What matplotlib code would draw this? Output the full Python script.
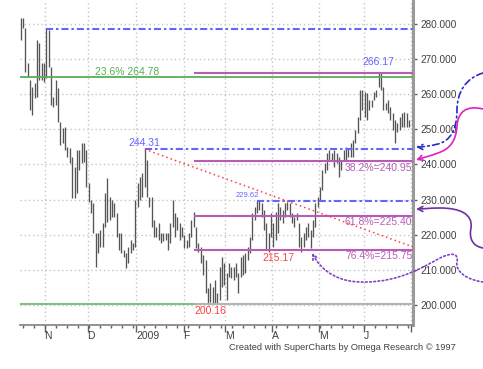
import numpy as np
import matplotlib
matplotlib.use("Agg")
import matplotlib.pyplot as plt
from matplotlib.patches import FancyArrowPatch
from matplotlib.path import Path

plt.rcParams['font.family'] = ['Liberation Sans', 'DejaVu Sans']

# daily bars, mid Oct 2008 .. end of Jun 2009
highs = [281.7, 281.7, 278.9, 268.9, 264.0, 262.1, 263.2, 275.4, 274.6, 268.9,
         268.9, 278.6, 278.3, 267.7, 259.2, 264.0, 261.8, 252.1, 250.4, 250.7,
         245.0, 244.7, 242.1, 239.3, 244.1, 244.1, 246.1, 246.1, 244.1, 234.7,
         229.9, 229.0, 220.5, 220.5, 221.3, 223.3, 231.9, 236.1, 230.7, 229.9,
         229.0, 226.2, 220.5, 220.5, 215.6, 214.8, 216.5, 218.5, 217.6, 229.9,
         234.7, 236.4, 237.6, 244.31, 241.3, 230.7, 230.7, 224.2, 222.2, 223.3,
         220.5, 220.5, 220.5, 220.5, 223.3, 229.9, 226.2, 225.0, 223.3, 222.2,
         219.9, 218.5, 220.5, 224.2, 226.4, 222.2, 217.6, 216.5, 214.2, 212.8,
         204.8, 206.2, 205.1, 207.1, 203.4, 210.8, 213.6, 211.9, 209.1, 211.9,
         210.8, 210.8, 211.9, 209.1, 213.6, 214.2, 214.8, 216.5, 219.3, 226.2,
         227.9, 229.62, 229.62, 229.0, 227.0, 223.3, 220.5, 226.2, 223.3, 226.4,
         229.0, 227.9, 227.0, 229.0, 229.3, 229.0, 226.2, 225.0, 226.2, 223.3,
         219.3, 220.5, 222.2, 223.3, 221.3, 224.2, 229.0, 230.7, 233.6, 238.4,
         240.4, 243.2, 244.1, 243.2, 244.1, 243.2, 242.1, 241.3, 244.1, 245.0,
         244.7, 246.1, 246.9, 249.8, 253.5, 261.2, 261.2, 260.6, 260.3, 258.3,
         258.3, 260.6, 261.2, 266.17, 266.0, 262.1, 257.5, 258.3, 256.4, 254.6,
         252.6, 251.8, 253.5, 254.6, 254.9, 254.6, 252.6]
lows = [275.4, 278.9, 266.3, 264.9, 255.5, 254.1, 258.9, 259.2, 264.0, 264.0,
        263.5, 264.6, 267.7, 256.9, 256.4, 256.9, 252.1, 245.5, 246.1, 244.1,
        242.1, 240.4, 230.4, 230.4, 231.9, 238.4, 240.4, 240.7, 233.6, 229.3,
        226.2, 220.5, 210.8, 214.8, 216.5, 216.5, 222.2, 223.6, 224.2, 225.0,
        225.0, 219.3, 215.6, 214.8, 213.6, 210.5, 211.9, 214.8, 215.6, 216.5,
        227.9, 229.9, 230.7, 233.6, 230.7, 227.9, 222.2, 219.3, 219.3, 218.5,
        217.6, 218.2, 218.5, 215.6, 217.6, 222.2, 219.3, 221.3, 218.5, 219.3,
        216.2, 216.2, 216.5, 219.3, 222.2, 216.2, 215.0, 211.9, 208.5, 203.4,
        200.16, 200.8, 200.16, 200.16, 200.5, 201.4, 205.1, 205.6, 201.4, 207.9,
        207.6, 207.1, 207.9, 203.4, 207.9, 208.5, 209.1, 212.8, 214.8, 218.5,
        224.2, 226.2, 227.0, 225.0, 221.3, 215.6, 215.0, 219.3, 216.5, 218.5,
        220.5, 224.2, 223.3, 225.0, 227.0, 225.0, 223.3, 222.2, 224.2, 216.5,
        215.17, 216.5, 218.5, 219.3, 216.2, 219.3, 222.2, 227.9, 229.9, 232.7,
        237.6, 238.4, 241.3, 241.3, 239.3, 240.4, 236.4, 238.4, 241.3, 241.3,
        242.1, 242.1, 242.1, 246.1, 248.9, 252.6, 255.5, 253.5, 252.6, 255.5,
        256.4, 258.3, 259.2, 262.1, 261.2, 255.5, 255.5, 254.6, 252.6, 249.8,
        246.1, 249.2, 249.8, 250.7, 250.7, 250.7, 250.7]

month_labels = ['N', 'D', '2009', 'F', 'M', 'A', 'M', 'J', '']
month_pos = [10.2, 28.6, 49.5, 69.6, 87.5, 107.6, 127.6, 146.8, 166.9]

nov_high = 278.6
fib_236 = 264.78
fib_names = ['38.2%', '61.8%', '76.4%']
fib_values = [240.95, 225.40, 215.75]
line_end_red = 216.5

x = np.arange(len(highs))
xmax = 167.7
i_peak = int(np.argmax(highs[40:60])) + 40
i_low = int(np.argmin(lows[60:100])) + 60
i_top = int(np.argmax(highs[140:])) + 140
i_229 = int(np.argmax(highs[95:110])) + 95
i_215 = int(np.argmin(lows[110:130])) + 110
i_fib = 74
peak = highs[i_peak]
low = lows[i_low]
top = highs[i_top]

fig = plt.figure(figsize=(4.83, 3.69), dpi=100)
ax = fig.add_axes([20 / 483, 44 / 369, 393 / 483, 325 / 369])
ax.set_xlim(-0.3, xmax)
ax.set_ylim(194.25, 286.84)

ax.grid(True, color='#c4c4c4', linestyle=(0, (1, 2)), linewidth=1)
ax.set_axisbelow(True)

ax.vlines(x, lows, highs, color='#555555', linewidth=0.95, zorder=3)

dashdot = (0, (3.4, 1.4, 1.2, 1.4))
blue = '#6464ff'
purple = '#b85cb8'
green = '#55b055'
red = '#ff4040'

# support / resistance lines
ax.hlines(nov_high, 11, xmax, color=blue, linestyle=dashdot, linewidth=1.5, zorder=4)
ax.hlines(peak, i_peak, xmax, color=blue, linestyle=dashdot, linewidth=1.5, zorder=4)
ax.hlines(highs[i_229], i_229, xmax, color=blue, linestyle=dashdot, linewidth=1.5, zorder=4)
ax.hlines(fib_236, -0.3, xmax, color=green, linewidth=1.3, zorder=4)
ax.hlines(low, -0.3, i_fib, color='#80c080', linewidth=1.5, zorder=4)
ax.hlines(low, i_fib, xmax, color='#b4b4b4', linewidth=1.5, zorder=4)
ax.hlines(top, i_fib, xmax, color=purple, linewidth=1.5, zorder=4)
for v in fib_values:
    ax.hlines(v, i_fib, xmax, color=purple, linewidth=1.5, zorder=4)
ax.plot([i_peak, xmax], [peak, line_end_red], color=red, linestyle=(0, (1, 2)),
        linewidth=1.1, zorder=4)

# labels
fs = 7.5
ax.text(31.6, fib_236 + 0.1, f'23.6% {fib_236:.2f}', color=green, fontsize=fs,
        ha='left', va='bottom')
ax.text(i_peak, peak + 0.3, f'{peak:.2f}', color=blue, fontsize=fs,
        ha='center', va='bottom')
ax.text(i_top, top + 1.5, f'{top:.2f}', color=blue, fontsize=fs,
        ha='center', va='bottom')
ax.text(i_229 - 4, highs[i_229] + 0.6, f'{highs[i_229]:.2f}', color=blue,
        fontsize=5.5, ha='center', va='bottom')
for n, v in zip(fib_names, fib_values):
    ax.text(xmax - 0.3, v - 0.5, f'{n}={v:.2f}', color=purple, fontsize=fs,
            ha='right', va='top')
ax.text(i_215 - 10, lows[i_215] - 0.3, f'{lows[i_215]:.2f}', color=red, fontsize=fs,
        ha='center', va='top')
ax.text(i_low + 1, low - 0.6, f'{low:.2f}', color=red, fontsize=fs,
        ha='center', va='top')

# axes styling
for s in ['left', 'top']:
    ax.spines[s].set_visible(False)
ax.spines['right'].set_color('#9a9a9a')
ax.spines['right'].set_linewidth(2.2)
ax.spines['bottom'].set_color('#8a8a8a')
ax.spines['bottom'].set_linewidth(1.3)
ax.yaxis.tick_right()
ax.set_yticks(np.arange(200, 281, 10))
ax.set_yticklabels([f'{v:.3f}' for v in np.arange(200, 281, 10)])
ax.tick_params(axis='y', direction='out', length=3, width=1, color='#606060',
               labelsize=7.2, labelcolor='#404040', pad=2)
ax.set_xticks(month_pos)
ax.set_xticklabels(month_labels, ha='left')
ax.set_xticks(np.arange(0.9, 168, 4.7), minor=True)
ax.tick_params(axis='x', which='major', direction='out', length=5, width=1,
               color='#606060', labelsize=fs, labelcolor='#404040', pad=-1)
ax.tick_params(axis='x', which='minor', direction='out', length=2.5, width=1,
               color='#606060')

fig.text(456 / 483, 1 - 347 / 369, 'Created with SuperCharts by Omega Research \u00a9 1997',
         fontsize=6.7, color='#404040', ha='right', va='center')


# hand drawn arrows to the right of the chart (pixel coords, y from top)
def fpath(pts):
    verts = [(px / 483, 1 - py / 369) for px, py in pts]
    codes = [Path.MOVETO] + [Path.CURVE4] * (len(pts) - 1)
    return Path(verts, codes)


curves = [
    ([(483, 73), (466, 78), (457, 92), (457, 110), (457, 130), (450, 141),
      (438, 144), (430, 146), (423, 147), (416, 147)], '#2828d0', (0, (4, 2, 1, 2))),
    ([(483, 109), (466, 105), (458, 112), (457, 126), (456, 141), (450, 149),
      (438, 153), (430, 156), (422, 158), (416, 160)], '#e020c0', '-'),
    ([(483, 248), (472, 246), (469, 238), (471, 228), (473, 214), (460, 208),
      (440, 208), (430, 208), (422, 209), (416, 209)], '#7030a0', '-'),
    ([(483, 282), (468, 280), (455, 272), (457, 262), (459, 252), (450, 253),
      (440, 258), (425, 266), (400, 282), (365, 282), (340, 283), (322, 272),
      (312, 253)], '#8040c8', (0, (1, 1.5))),
]
for pts, col, ls in curves:
    arr = FancyArrowPatch(path=fpath(pts), arrowstyle='->', mutation_scale=9,
                          color=col, linewidth=1.2, linestyle=ls,
                          transform=fig.transFigure)
    fig.add_artist(arr)

fig.savefig('out.png', dpi=100)
